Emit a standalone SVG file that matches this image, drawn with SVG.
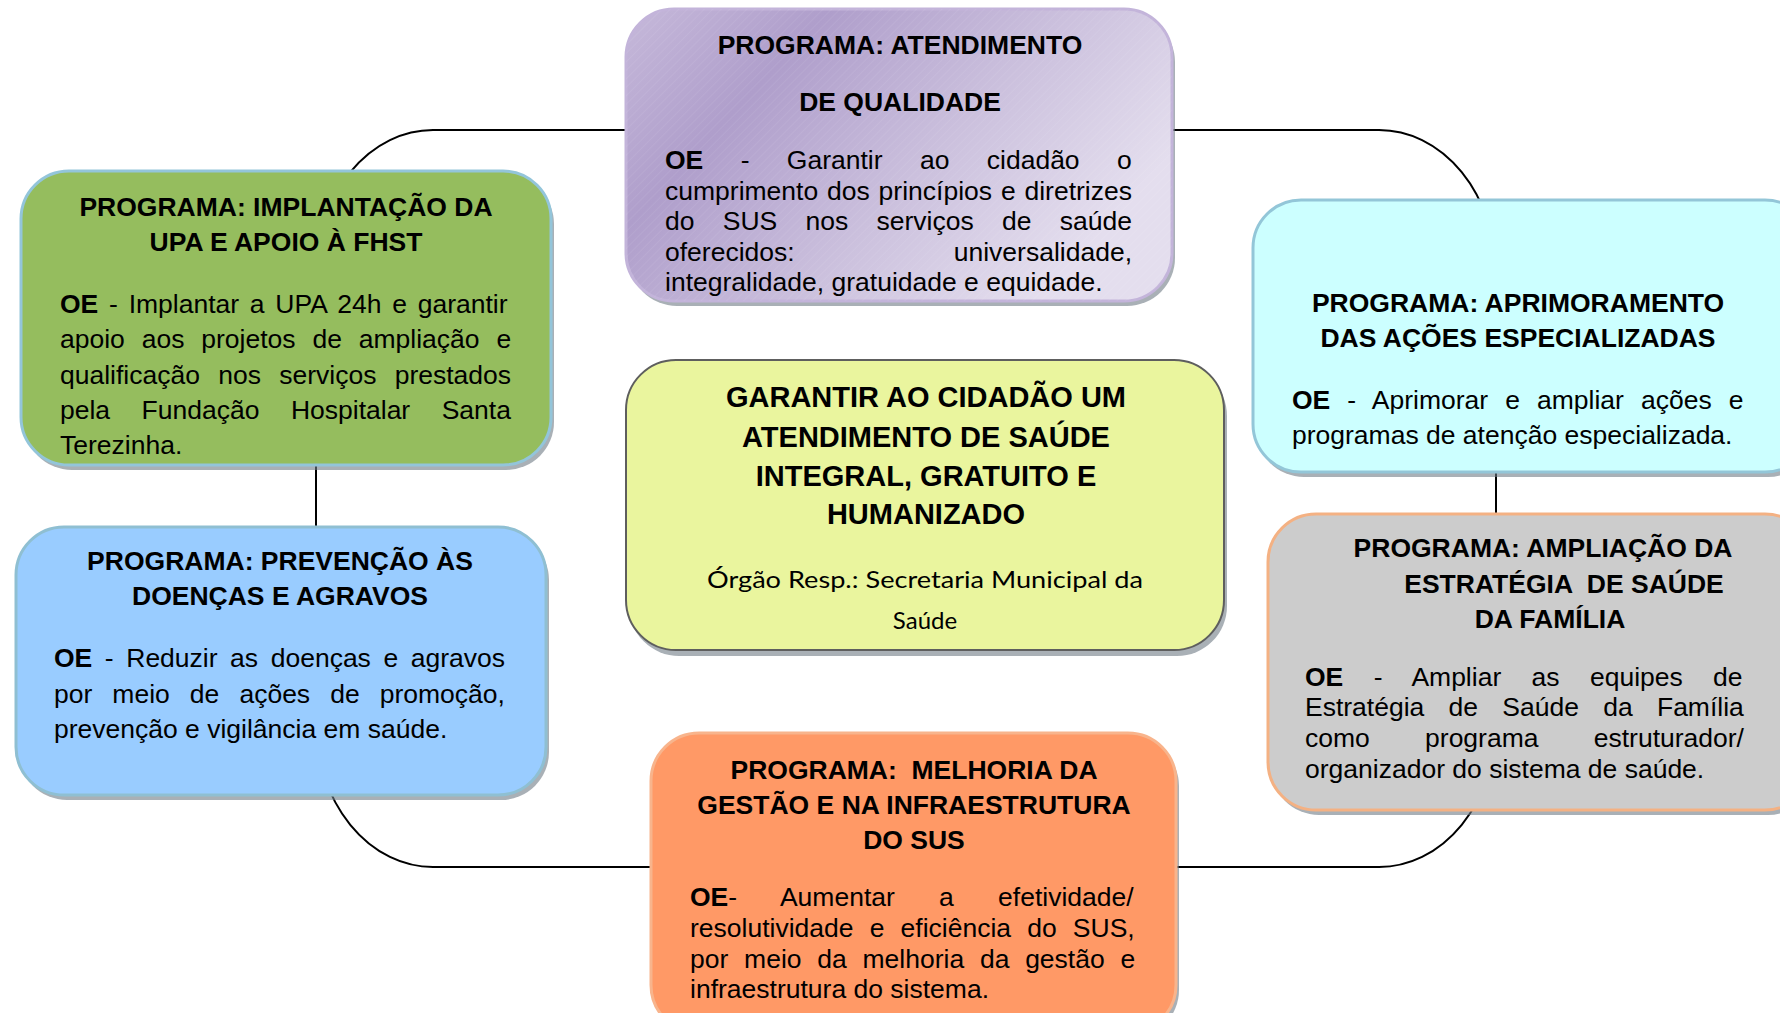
<svg xmlns="http://www.w3.org/2000/svg" width="1780" height="1013" viewBox="0 0 1780 1013">
<defs>
<linearGradient id="gPurple" x1="0" y1="0" x2="1" y2="0.5">
<stop offset="0" stop-color="#C6B9DA"/>
<stop offset="0.3" stop-color="#AF9ECB"/>
<stop offset="0.65" stop-color="#CBC0DD"/>
<stop offset="1" stop-color="#E4DEEE"/>
</linearGradient>
<pattern id="hatch" width="6" height="6" patternUnits="userSpaceOnUse" patternTransform="rotate(45)">
<line x1="0" y1="0" x2="0" y2="6" stroke="#ffffff" stroke-opacity="0.12" stroke-width="1"/>
</pattern>
</defs>
<style>
.b{font-family:"Liberation Sans",Arial,sans-serif;font-size:26.5px;fill:#000}
.t{font-family:"Liberation Sans",Arial,sans-serif;font-size:26.5px;font-weight:bold;fill:#000;text-anchor:middle}
.ct{font-family:"Liberation Sans",Arial,sans-serif;font-size:29px;font-weight:bold;fill:#000;text-anchor:middle}
.cs{font-family:Lato,"Open Sans",sans-serif;font-size:24px;fill:#000;text-anchor:middle}
.e{text-anchor:end}
.sh{fill:#707c86;fill-opacity:0.6}
.bx{stroke-width:3}
.conn{fill:none;stroke:#000;stroke-width:2}
</style>
<rect width="1780" height="1013" fill="#fff"/>
<g id="connectors">
<rect class="conn" x="316" y="130" width="1180" height="737" rx="117" ry="144"/>
</g>
<g id="node-atendimento">
<rect class="sh" x="629" y="14" width="546" height="292" rx="48"/>
<rect class="bx" x="626" y="9" width="546" height="292" rx="48" fill="url(#gPurple)" stroke="#C3B4DA"/>
<rect x="626" y="9" width="546" height="292" rx="48" fill="url(#hatch)"/>
<text class="t" x="900" y="54">PROGRAMA: ATENDIMENTO</text>
<text class="t" x="900" y="111">DE QUALIDADE</text>
<text class="b" x="665" y="169" style="word-spacing:30px"><tspan font-weight="bold">OE</tspan> - Garantir ao cidadão o</text>
<text class="b" x="665" y="200" style="word-spacing:1.5px">cumprimento dos princípios e diretrizes</text>
<text class="b" x="665" y="230" style="word-spacing:20.9px">do SUS nos serviços de saúde</text>
<text class="b" x="665" y="261">oferecidos:</text>
<text class="b e" x="1132" y="261">universalidade,</text>
<text class="b" x="665" y="291">integralidade, gratuidade e equidade.</text>
</g>
<g id="node-upa">
<rect class="sh" x="24" y="176" width="530" height="294" rx="48"/>
<rect class="bx" x="21" y="171" width="530" height="294" rx="48" fill="#95BD5E" stroke="#93C5DA"/>
<text class="t" x="286" y="216">PROGRAMA: IMPLANTAÇÃO DA</text>
<text class="t" x="286" y="251">UPA E APOIO À FHST</text>
<text class="b" x="60" y="313" style="word-spacing:3.4px"><tspan font-weight="bold">OE</tspan> - Implantar a UPA 24h e garantir</text>
<text class="b" x="60" y="348" style="word-spacing:9.5px">apoio aos projetos de ampliação e</text>
<text class="b" x="60" y="384" style="word-spacing:10.9px">qualificação nos serviços prestados</text>
<text class="b" x="60" y="419" style="word-spacing:24.1px">pela Fundação Hospitalar Santa</text>
<text class="b" x="60" y="454">Terezinha.</text>
</g>
<g id="node-prevencao">
<rect class="sh" x="19" y="532" width="530" height="268" rx="48"/>
<rect class="bx" x="16" y="527" width="530" height="268" rx="48" fill="#99CCFF" stroke="#8FBFD2"/>
<text class="t" x="280" y="570">PROGRAMA: PREVENÇÃO ÀS</text>
<text class="t" x="280" y="605">DOENÇAS E AGRAVOS</text>
<text class="b" x="54" y="667" style="word-spacing:5.2px"><tspan font-weight="bold">OE</tspan> - Reduzir as doenças e agravos</text>
<text class="b" x="54" y="703" style="word-spacing:12.7px">por meio de ações de promoção,</text>
<text class="b" x="54" y="738">prevenção e vigilância em saúde.</text>
</g>
<g id="node-especializadas">
<rect class="sh" x="1256" y="205" width="560" height="272" rx="48"/>
<rect class="bx" x="1253" y="200" width="560" height="272" rx="48" fill="#CCFFFF" stroke="#93C6D8"/>
<text class="t" x="1518" y="312">PROGRAMA: APRIMORAMENTO</text>
<text class="t" x="1518" y="347">DAS AÇÕES ESPECIALIZADAS</text>
<text class="b" x="1292" y="409" style="word-spacing:9.7px"><tspan font-weight="bold">OE</tspan> - Aprimorar e ampliar ações e</text>
<text class="b" x="1292" y="444">programas de atenção especializada.</text>
</g>
<g id="node-esf">
<rect class="sh" x="1271" y="519" width="545" height="296" rx="48"/>
<rect class="bx" x="1268" y="514" width="545" height="296" rx="48" fill="#CCCCCC" stroke="#F4B183"/>
<text class="t" x="1543" y="557">PROGRAMA: AMPLIAÇÃO DA</text>
<text class="t" x="1564" y="593" xml:space="preserve">ESTRATÉGIA  DE SAÚDE</text>
<text class="t" x="1550" y="628">DA FAMÍLIA</text>
<text class="b" x="1305" y="686" style="word-spacing:23px"><tspan font-weight="bold">OE</tspan> - Ampliar as equipes de</text>
<text class="b" x="1305" y="716" style="word-spacing:16.9px">Estratégia de Saúde da Família</text>
<text class="b" x="1305" y="747" style="word-spacing:47.9px">como programa estruturador/</text>
<text class="b" x="1305" y="778">organizador do sistema de saúde.</text>
</g>
<g id="node-gestao">
<rect class="sh" x="654" y="738" width="525" height="300" rx="48"/>
<rect class="bx" x="651" y="733" width="525" height="300" rx="48" fill="#FF9966" stroke="#F8B48C"/>
<text class="t" x="914" y="779" xml:space="preserve">PROGRAMA:  MELHORIA DA</text>
<text class="t" x="914" y="814">GESTÃO E NA INFRAESTRUTURA</text>
<text class="t" x="914" y="849">DO SUS</text>
<text class="b" x="690" y="906" style="word-spacing:36.9px"><tspan font-weight="bold">OE</tspan>- Aumentar a efetividade/</text>
<text class="b" x="690" y="937" style="word-spacing:8.8px">resolutividade e eficiência do SUS,</text>
<text class="b" x="690" y="968" style="word-spacing:8.4px">por meio da melhoria da gestão e</text>
<text class="b" x="690" y="998">infraestrutura do sistema.</text>
</g>
<g id="node-central">
<rect class="sh" x="629" y="366" width="598" height="290" rx="50"/>
<rect x="626" y="360" width="598" height="290" rx="50" fill="#EAF59E" stroke="#5E5E5E" stroke-width="2"/>
<text class="ct" x="926" y="407">GARANTIR AO CIDADÃO UM</text>
<text class="ct" x="926" y="447">ATENDIMENTO DE SAÚDE</text>
<text class="ct" x="926" y="486">INTEGRAL, GRATUITO E</text>
<text class="ct" x="926" y="524">HUMANIZADO</text>
<text class="cs" x="925" y="588" textLength="436" lengthAdjust="spacingAndGlyphs">Órgão Resp.: Secretaria Municipal da</text>
<text class="cs" x="925" y="629">Saúde</text>
</g>
</svg>
